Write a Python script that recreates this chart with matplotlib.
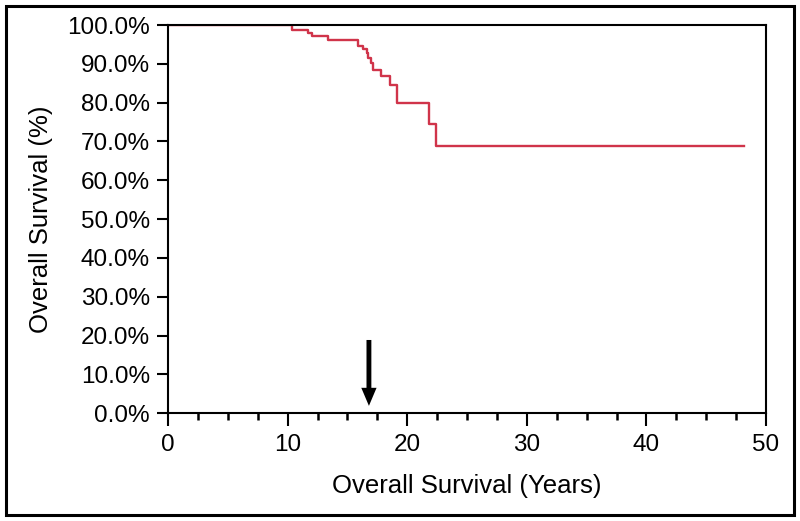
import matplotlib.pyplot as plt
from matplotlib.patches import Rectangle
from matplotlib.ticker import MultipleLocator, FuncFormatter

plt.rcParams['font.family'] = ['Liberation Sans', 'DejaVu Sans']

# step points of the survival curve (years, % surviving)
years = [0, 10.4, 11.7, 12.0, 13.35, 15.85, 16.3, 16.6, 16.75, 17.0, 17.1,
         17.85, 18.55, 19.15, 21.85, 22.4, 48.2]
survival = [100, 98.7, 98.0, 97.2, 96.1, 94.7, 93.8, 92.7, 91.4, 90.3, 88.4,
            86.9, 84.5, 79.8, 74.4, 68.8, 68.8]
arrow_year = 16.8

fig = plt.figure(figsize=(8, 5.21), dpi=100)
ax = fig.add_axes([0.21, 0.2067, 0.7475, 0.7453])

ax.step(years, survival, where='post', color='#d0344a', lw=1.7)

ax.annotate('', xy=(arrow_year, 1.2), xytext=(arrow_year, 19.6),
            arrowprops=dict(arrowstyle='simple,head_width=1.1,head_length=1.3,tail_width=0.35',
                            color='black', lw=0))

ax.set_xlim(0, 50)
ax.set_ylim(0, 100)
ax.xaxis.set_major_locator(MultipleLocator(10))
ax.xaxis.set_minor_locator(MultipleLocator(2.5))
ax.yaxis.set_major_locator(MultipleLocator(10))
ax.yaxis.set_major_formatter(FuncFormatter(lambda v, p: f'{v:.1f}%'))

ax.tick_params(axis='x', which='major', length=9, width=1.5, pad=6, labelsize=17.5)
ax.tick_params(axis='x', which='minor', length=5, width=1.8)
ax.tick_params(axis='y', which='major', length=8, width=1.5, pad=5, labelsize=17.5)
for s in ax.spines.values():
    s.set_linewidth(1.5)

ax.set_xlabel('Overall Survival (Years)', fontsize=18.5, labelpad=13)
ax.set_ylabel('Overall Survival (%)', fontsize=18.5, labelpad=10)

fig.patches.append(Rectangle((6 / 800, 6 / 521), 788 / 800, 509 / 521,
                             transform=fig.transFigure, fill=False,
                             edgecolor='black', lw=2.2))

fig.savefig('out.png', dpi=100)
